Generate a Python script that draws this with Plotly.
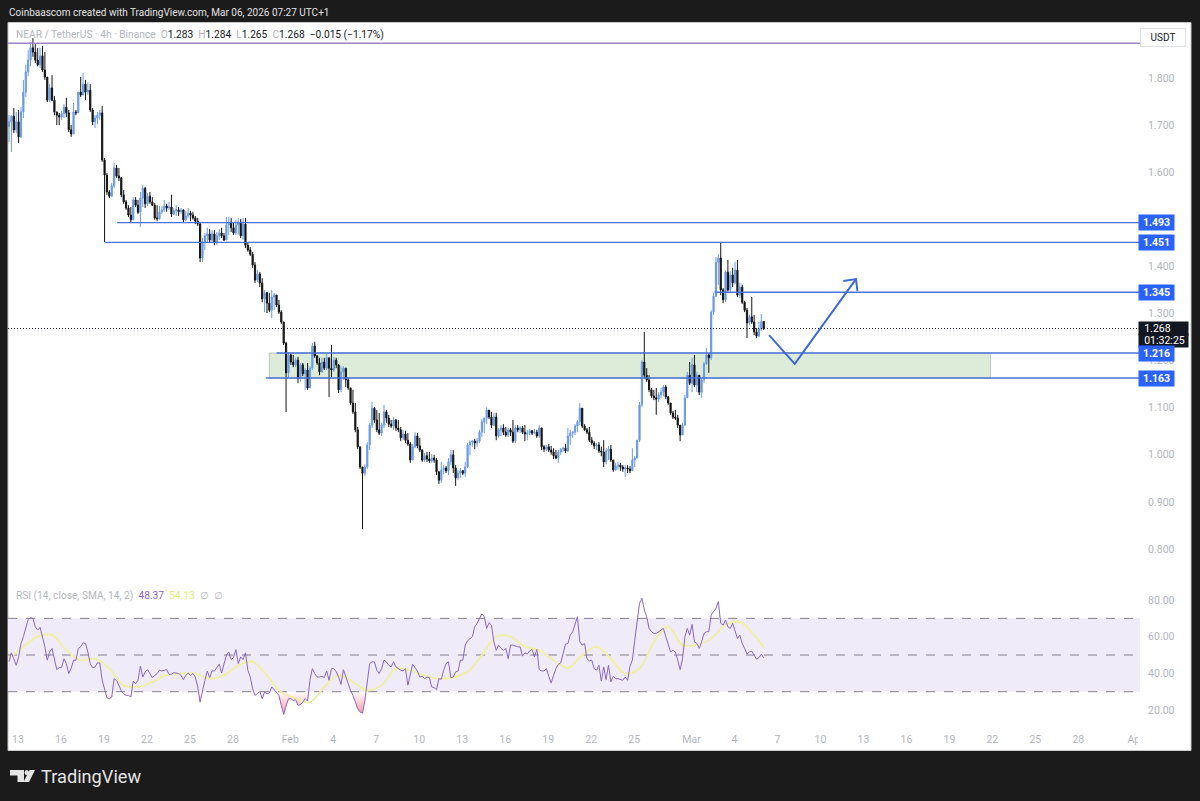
import pandas as pd
import plotly.graph_objects as go

# 4h candles, one row per day
closes = [
    1.707, 1.719, 1.690, 1.707, 1.675, 1.728,
    1.770, 1.813, 1.838, 1.864, 1.855, 1.838,
    1.828, 1.847, 1.817, 1.802, 1.753, 1.779,
    1.753, 1.728, 1.721, 1.717, 1.724, 1.738,
    1.726, 1.690, 1.681, 1.728, 1.726, 1.770,
    1.764, 1.787, 1.770, 1.774, 1.732, 1.707,
    1.715, 1.721, 1.726, 1.626, 1.594, 1.558,
    1.549, 1.571, 1.609, 1.592, 1.588, 1.552,
    1.537, 1.524, 1.509, 1.499, 1.541, 1.530,
    1.515, 1.545, 1.566, 1.533, 1.549, 1.537,
    1.530, 1.503, 1.501, 1.516, 1.520, 1.528,
    1.524, 1.526, 1.511, 1.518, 1.520, 1.516,
    1.520, 1.499, 1.507, 1.513, 1.509, 1.503,
    1.496, 1.490, 1.418, 1.450, 1.465, 1.469,
    1.456, 1.469, 1.450, 1.465, 1.471, 1.465,
    1.456, 1.488, 1.494, 1.482, 1.471, 1.488,
    1.494, 1.465, 1.490, 1.445, 1.435, 1.426,
    1.403, 1.371, 1.384, 1.365, 1.331, 1.344,
    1.322, 1.307, 1.335, 1.339, 1.318, 1.303,
    1.282, 1.237, 1.174, 1.212, 1.197, 1.191,
    1.201, 1.163, 1.191, 1.172, 1.180, 1.142,
    1.184, 1.231, 1.210, 1.195, 1.176, 1.197,
    1.184, 1.206, 1.184, 1.180, 1.201, 1.191,
    1.138, 1.176, 1.184, 1.159, 1.142, 1.110,
    1.091, 1.053, 1.017, 0.974, 0.961, 0.974,
    1.021, 1.063, 1.099, 1.074, 1.053, 1.046,
    1.063, 1.091, 1.078, 1.065, 1.061, 1.074,
    1.057, 1.053, 1.036, 1.044, 1.031, 1.023,
    0.989, 1.017, 1.040, 1.019, 1.010, 0.989,
    0.998, 0.991, 0.987, 0.993, 0.989, 0.964,
    0.946, 0.968, 0.972, 0.966, 0.985, 1.000,
    0.972, 0.951, 0.961, 0.966, 0.961, 0.974,
    1.021, 1.027, 1.029, 1.025, 1.029, 1.048,
    1.070, 1.078, 1.095, 1.080, 1.063, 1.080,
    1.040, 1.053, 1.057, 1.048, 1.042, 1.053,
    1.048, 1.029, 1.057, 1.053, 1.057, 1.048,
    1.044, 1.046, 1.051, 1.046, 1.048, 1.040,
    1.057, 1.017, 1.012, 1.017, 1.010, 1.006,
    0.998, 0.993, 1.006, 1.012, 1.014, 1.008,
    1.040, 1.046, 1.048, 1.061, 1.070, 1.099,
    1.061, 1.053, 1.048, 1.031, 1.025, 1.019,
    1.021, 1.008, 1.006, 0.985, 1.008, 1.012,
    0.989, 0.968, 0.976, 0.978, 0.974, 0.970,
    0.972, 0.970, 0.966, 0.989, 0.993, 1.031,
    1.106, 1.197, 1.169, 1.159, 1.138, 1.125,
    1.121, 1.118, 1.127, 1.133, 1.144, 1.123,
    1.110, 1.089, 1.080, 1.078, 1.063, 1.042,
    1.063, 1.121, 1.169, 1.152, 1.191, 1.148,
    1.169, 1.133, 1.159, 1.193, 1.212, 1.206,
    1.303, 1.337, 1.409, 1.418, 1.350, 1.329,
    1.388, 1.350, 1.382, 1.365, 1.392, 1.339,
    1.356, 1.324, 1.307, 1.280, 1.293, 1.282,
    1.261, 1.252, 1.267, 1.283, 1.268,
]
highs = [
    1.721, 1.721, 1.736, 1.728, 1.732, 1.738,
    1.796, 1.828, 1.859, 1.876, 1.885, 1.872,
    1.864, 1.864, 1.868, 1.855, 1.800, 1.787,
    1.806, 1.762, 1.728, 1.726, 1.730, 1.745,
    1.758, 1.732, 1.700, 1.747, 1.732, 1.768,
    1.802, 1.811, 1.796, 1.791, 1.787, 1.736,
    1.721, 1.728, 1.732, 1.741, 1.630, 1.598,
    1.562, 1.577, 1.620, 1.615, 1.609, 1.590,
    1.562, 1.541, 1.530, 1.526, 1.547, 1.547,
    1.541, 1.558, 1.573, 1.569, 1.556, 1.558,
    1.547, 1.535, 1.530, 1.528, 1.528, 1.541,
    1.533, 1.537, 1.552, 1.524, 1.530, 1.526,
    1.524, 1.518, 1.518, 1.524, 1.518, 1.516,
    1.507, 1.503, 1.494, 1.460, 1.471, 1.482,
    1.479, 1.477, 1.477, 1.473, 1.479, 1.482,
    1.471, 1.505, 1.505, 1.503, 1.494, 1.499,
    1.503, 1.501, 1.503, 1.503, 1.450, 1.441,
    1.431, 1.409, 1.392, 1.388, 1.375, 1.350,
    1.346, 1.344, 1.350, 1.344, 1.337, 1.329,
    1.307, 1.282, 1.240, 1.218, 1.216, 1.212,
    1.206, 1.208, 1.195, 1.195, 1.184, 1.195,
    1.188, 1.237, 1.240, 1.212, 1.206, 1.206,
    1.206, 1.214, 1.206, 1.233, 1.208, 1.206,
    1.191, 1.188, 1.188, 1.184, 1.163, 1.142,
    1.138, 1.110, 1.059, 1.017, 0.974, 0.980,
    1.027, 1.068, 1.112, 1.101, 1.095, 1.089,
    1.068, 1.106, 1.095, 1.085, 1.074, 1.080,
    1.076, 1.074, 1.059, 1.053, 1.051, 1.046,
    1.027, 1.023, 1.048, 1.046, 1.036, 1.012,
    1.004, 1.006, 1.006, 1.002, 1.000, 0.993,
    0.963, 0.985, 0.978, 0.976, 0.993, 1.010,
    1.010, 0.978, 0.968, 0.972, 0.968, 0.985,
    1.025, 1.031, 1.031, 1.034, 1.036, 1.053,
    1.076, 1.078, 1.101, 1.095, 1.091, 1.089,
    1.089, 1.057, 1.063, 1.065, 1.059, 1.057,
    1.057, 1.074, 1.063, 1.063, 1.061, 1.061,
    1.063, 1.053, 1.055, 1.053, 1.055, 1.053,
    1.063, 1.057, 1.021, 1.021, 1.023, 1.019,
    1.014, 1.010, 1.010, 1.014, 1.017, 1.023,
    1.057, 1.053, 1.051, 1.065, 1.074, 1.110,
    1.095, 1.065, 1.057, 1.059, 1.038, 1.029,
    1.025, 1.027, 1.017, 1.031, 1.014, 1.019,
    1.021, 0.989, 0.983, 0.985, 0.983, 0.978,
    0.978, 0.978, 0.976, 1.014, 0.997, 1.031,
    1.112, 1.201, 1.261, 1.184, 1.169, 1.142,
    1.138, 1.142, 1.133, 1.142, 1.148, 1.148,
    1.125, 1.110, 1.093, 1.095, 1.085, 1.063,
    1.068, 1.127, 1.176, 1.197, 1.206, 1.212,
    1.176, 1.169, 1.163, 1.197, 1.227, 1.216,
    1.307, 1.344, 1.420, 1.426, 1.451, 1.354,
    1.392, 1.414, 1.390, 1.397, 1.409, 1.414,
    1.365, 1.361, 1.327, 1.312, 1.297, 1.335,
    1.297, 1.269, 1.282, 1.299, 1.284,
]
lows = [
    1.664, 1.643, 1.683, 1.683, 1.662, 1.673,
    1.715, 1.760, 1.804, 1.825, 1.845, 1.832,
    1.825, 1.821, 1.813, 1.796, 1.749, 1.749,
    1.751, 1.721, 1.700, 1.700, 1.711, 1.715,
    1.717, 1.685, 1.675, 1.685, 1.721, 1.726,
    1.760, 1.764, 1.753, 1.764, 1.728, 1.700,
    1.694, 1.702, 1.711, 1.622, 1.452, 1.552,
    1.545, 1.547, 1.566, 1.588, 1.581, 1.547,
    1.533, 1.520, 1.505, 1.492, 1.505, 1.526,
    1.511, 1.484, 1.526, 1.524, 1.528, 1.533,
    1.528, 1.499, 1.496, 1.499, 1.511, 1.516,
    1.516, 1.520, 1.505, 1.509, 1.507, 1.507,
    1.511, 1.494, 1.496, 1.503, 1.496, 1.499,
    1.490, 1.486, 1.409, 1.409, 1.435, 1.450,
    1.450, 1.450, 1.445, 1.445, 1.456, 1.460,
    1.454, 1.456, 1.467, 1.473, 1.467, 1.467,
    1.467, 1.460, 1.456, 1.439, 1.431, 1.422,
    1.397, 1.365, 1.367, 1.356, 1.324, 1.303,
    1.301, 1.303, 1.290, 1.307, 1.314, 1.299,
    1.278, 1.233, 1.091, 1.163, 1.191, 1.186,
    1.186, 1.152, 1.155, 1.167, 1.138, 1.138,
    1.148, 1.180, 1.206, 1.191, 1.169, 1.174,
    1.180, 1.180, 1.123, 1.165, 1.176, 1.184,
    1.131, 1.133, 1.159, 1.144, 1.138, 1.106,
    1.087, 1.048, 1.012, 0.970, 0.842, 0.955,
    0.970, 1.010, 1.057, 1.068, 1.048, 1.042,
    1.040, 1.057, 1.068, 1.059, 1.057, 1.053,
    1.051, 1.048, 1.029, 1.031, 1.025, 1.019,
    0.983, 0.989, 1.014, 1.014, 1.006, 0.985,
    0.985, 0.985, 0.983, 0.983, 0.983, 0.957,
    0.938, 0.940, 0.959, 0.961, 0.957, 0.978,
    0.961, 0.934, 0.946, 0.951, 0.957, 0.953,
    0.972, 0.999, 1.017, 1.012, 1.017, 1.025,
    1.038, 1.046, 1.065, 1.076, 1.057, 1.061,
    1.031, 1.036, 1.040, 1.042, 1.038, 1.038,
    1.040, 1.025, 1.025, 1.048, 1.046, 1.044,
    1.029, 1.031, 1.042, 1.042, 1.044, 1.036,
    1.036, 1.010, 1.006, 1.008, 1.006, 1.000,
    0.991, 0.991, 0.983, 1.000, 1.006, 1.004,
    1.006, 1.021, 1.036, 1.042, 1.048, 1.063,
    1.057, 1.051, 1.044, 1.027, 1.021, 1.012,
    1.010, 1.004, 0.997, 0.974, 0.980, 0.989,
    0.985, 0.964, 0.966, 0.968, 0.966, 0.964,
    0.953, 0.961, 0.961, 0.968, 0.974, 0.993,
    1.027, 1.101, 1.163, 1.155, 1.133, 1.121,
    1.116, 1.085, 1.112, 1.121, 1.125, 1.118,
    1.106, 1.085, 1.076, 1.074, 1.057, 1.029,
    1.042, 1.063, 1.121, 1.148, 1.133, 1.144,
    1.133, 1.127, 1.121, 1.152, 1.191, 1.174,
    1.201, 1.297, 1.335, 1.361, 1.339, 1.322,
    1.324, 1.346, 1.346, 1.356, 1.363, 1.335,
    1.333, 1.320, 1.303, 1.248, 1.276, 1.278,
    1.254, 1.248, 1.250, 1.263, 1.265,
]
first_open = 1.697
first_candle = "2026-01-12 09:00"

rsi_vals = [
    46.3, 51.2, 48.0, 44.4, 49.0, 56.3, 60.0, 65.4, 69.4, 70.4, 70.0, 65.4,
    63.6, 65.1, 60.0, 54.5, 47.2, 51.7, 53.6, 47.2, 42.0, 43.1, 43.1, 48.0,
    45.3, 39.9, 42.6, 47.2, 47.2, 53.6, 54.5, 56.7, 56.3, 51.7, 45.3, 43.1,
    43.5, 45.7, 45.7, 36.2, 30.7, 26.7, 26.2, 27.1, 37.1, 36.2, 33.5, 30.4,
    28.9, 28.0, 28.0, 27.1, 35.8, 34.4, 36.2, 43.9, 38.0, 40.8, 42.0, 39.9,
    37.7, 38.9, 39.9, 41.7, 41.3, 41.7, 42.0, 39.5, 39.5, 40.4, 40.2, 39.9,
    38.9, 36.6, 38.9, 40.2, 38.9, 39.9, 38.0, 32.6, 24.3, 30.7, 36.2, 41.3,
    37.7, 41.3, 41.3, 43.1, 45.0, 40.2, 45.3, 49.9, 51.7, 47.5, 48.6, 53.0,
    45.3, 49.0, 47.5, 51.2, 41.7, 38.0, 31.6, 28.0, 28.9, 30.2, 26.2, 29.8,
    28.9, 29.3, 32.6, 31.1, 29.8, 28.0, 22.5, 17.6, 22.0, 26.2, 26.2, 25.2,
    25.6, 22.5, 23.0, 24.3, 26.2, 24.9, 36.2, 42.6, 39.9, 38.0, 38.0, 38.4,
    37.7, 41.3, 36.2, 42.6, 42.6, 40.8, 38.0, 34.0, 42.0, 38.0, 33.5, 30.7,
    28.0, 24.3, 20.7, 18.9, 18.3, 25.2, 36.2, 45.3, 46.3, 46.3, 41.7, 39.9,
    42.6, 47.2, 46.3, 44.4, 43.5, 46.3, 43.5, 42.6,
    41.7, 41.3, 42.6, 33.5, 39.9, 45.0, 43.1, 41.3, 38.0, 38.4, 37.1, 38.0,
    37.7, 32.6, 32.2, 31.1, 37.1, 36.8, 41.7, 45.3, 46.3, 37.7, 38.0, 40.8,
    41.3, 47.2, 47.2, 55.4, 57.8, 59.0, 60.0, 65.4, 67.3, 70.0, 72.4, 70.9,
    64.5, 67.6, 66.3, 57.2, 52.6, 55.4, 53.6, 52.6, 53.6, 48.0, 55.4, 55.4,
    54.8, 54.5, 54.5, 49.4, 51.2, 50.5, 52.3, 53.0, 49.0, 53.0, 42.0, 41.3,
    41.3, 42.6, 38.4, 34.7, 38.9, 42.6, 45.0, 45.7, 50.8, 55.9, 56.3, 60.9,
    62.7, 66.3, 70.9, 57.2, 55.4, 56.3, 48.0, 46.8, 47.2, 42.6, 41.7, 44.4,
    35.8, 43.5, 36.6, 44.4, 35.3, 38.4, 37.1, 37.1, 36.6, 36.2, 38.0, 36.2,
    43.9, 47.2, 58.1, 70.0, 78.2, 81.0, 74.6, 70.9, 64.5, 62.7, 61.8, 61.8,
    62.7, 63.6, 64.5, 60.0, 56.3, 51.7, 52.6, 51.7, 47.2, 42.0, 48.0, 60.0,
    64.5, 60.9, 66.7, 57.2, 56.3, 53.6, 57.2, 61.8, 62.7, 62.7, 71.8, 73.6,
    75.5, 79.1, 67.3, 66.3, 69.1, 65.4, 64.5, 67.3, 62.7, 59.0, 60.9, 56.3,
    53.6, 50.5, 51.7, 52.1, 49.9, 47.7, 48.6, 50.5, 48.4,
]
# RSI moving average, read once a day plus the last candle
rsi_ma_vals = [
    48.0, 54.5, 60.0, 60.9, 52.6, 47.2, 48.0, 42.6, 33.5, 32.6, 35.3, 38.9,
    39.9, 39.9, 37.1, 38.9, 44.4, 46.3, 38.9, 29.8, 26.2, 24.3, 32.6, 38.9,
    35.3, 30.7, 33.5, 42.6, 41.7, 38.9, 37.1, 37.7, 40.8, 49.9, 60.0, 60.0,
    54.5, 52.6, 47.2, 43.0, 49.9, 54.5, 48.0, 39.9, 42.6, 57.2, 65.4, 55.4,
    55.4, 59.0, 66.3, 68.2, 60.9, 54.13,
]

level_prices = [1.493, 1.451, 1.345, 1.216, 1.163]
level_starts = ["2026-01-19 22:00", "2026-01-19 01:00", "2026-03-02 15:00",
                "2026-01-31 01:00", "2026-01-30 07:00"]
top_level = 1.874
last_price = 1.268
zone_low, zone_high = 1.163, 1.216
zone_start, zone_end = "2026-01-30 13:00", "2026-03-21 21:00"

plan_x = ["2026-03-06 10:00", "2026-03-08 05:00", "2026-03-12 11:30", None,
          "2026-03-11 14:20", "2026-03-12 11:30", "2026-03-12 14:00"]
plan_y = [1.254, 1.193, 1.373, None, 1.369, 1.373, 1.348]

price_ticks = [0.8, 0.9, 1.0, 1.1, 1.2, 1.3, 1.4, 1.6, 1.7, 1.8]
rsi_ticks = [20, 40, 60, 80]
rsi_levels = [70, 50, 30]
time_ticks = ["2026-01-13", "2026-01-16", "2026-01-19", "2026-01-22", "2026-01-25",
              "2026-01-28", "2026-02-01", "2026-02-04", "2026-02-07", "2026-02-10",
              "2026-02-13", "2026-02-16", "2026-02-19", "2026-02-22", "2026-02-25",
              "2026-03-01", "2026-03-04", "2026-03-07", "2026-03-10", "2026-03-13",
              "2026-03-16", "2026-03-19", "2026-03-22", "2026-03-25", "2026-03-28",
              "2026-04-01"]
time_labels = ["13", "16", "19", "22", "25", "28", "Feb", "4", "7", "10", "13", "16",
               "19", "22", "25", "Mar", "4", "7", "10", "13", "16", "19", "22", "25",
               "28", "Apr"]
time_range = ["2026-01-12 07:15", "2026-04-01 07:15"]

BLUE = "#2962ff"
LINE_BLUE = "#4a72d8"
UP = "#6a9ae6"
DOWN = "#141414"
GREY = "#b2b5be"
DARK = "#131722"
FONT = "Roboto"


def fx(px):
    return px / 1200


def fy(px):
    return 1 - px / 801


def poly(points):
    return "M" + " L".join(f"{fx(x)},{fy(y)}" for x, y in points) + " Z"


dates = pd.date_range(first_candle, periods=len(closes), freq="4h")
opens = [first_open] + closes[:-1]
ma_dates = list(dates[::6]) + [dates[-1]]

fig = go.Figure()

fig.add_trace(go.Candlestick(
    x=dates, open=opens, high=highs, low=lows, close=closes,
    increasing=dict(line=dict(color=UP, width=1), fillcolor=UP),
    decreasing=dict(line=dict(color=DOWN, width=1), fillcolor=DOWN),
    whiskerwidth=0,
))

for price, start in zip(level_prices, level_starts):
    fig.add_trace(go.Scatter(x=[start, time_range[1]], y=[price, price], mode="lines",
                             line=dict(color=LINE_BLUE, width=1.4)))

fig.add_trace(go.Scatter(x=time_range, y=[top_level, top_level], mode="lines",
                         line=dict(color="#9b86c8", width=1.5)))
fig.add_trace(go.Scatter(x=time_range, y=[last_price, last_price], mode="lines",
                         line=dict(color=DARK, width=1, dash="1px,2px")))
fig.add_trace(go.Scatter(x=plan_x, y=plan_y, mode="lines",
                         line=dict(color="#3f68dc", width=2)))

# RSI pane
fig.add_trace(go.Scatter(x=dates, y=[30] * len(rsi_vals), mode="lines", yaxis="y2",
                         line=dict(width=0, color="rgba(0,0,0,0)")))
fig.add_trace(go.Scatter(
    x=dates, y=[min(v, 30) for v in rsi_vals], mode="lines", yaxis="y2",
    line=dict(width=0, color="rgba(0,0,0,0)"), fill="tonexty",
    fillgradient=dict(type="vertical", start=17, stop=30,
                      colorscale=[[0, "rgba(242,54,69,0.55)"], [1, "rgba(242,54,69,0)"]]),
))
fig.add_trace(go.Scatter(x=ma_dates, y=rsi_ma_vals, mode="lines", yaxis="y2",
                         line=dict(color="#eff0a6", width=2, shape="spline", smoothing=1)))
fig.add_trace(go.Scatter(x=dates, y=rsi_vals, mode="lines", yaxis="y2",
                         line=dict(color="#8a66c4", width=1)))

shapes = [
    dict(type="rect", xref="paper", yref="paper", x0=fx(8), x1=fx(1191), y0=fy(750.5), y1=fy(22.5),
         fillcolor="white", line=dict(color="#c8c8c8", width=1), layer="below"),
    # zone sits under the candles, so it goes in as a shape
    dict(type="rect", xref="x", yref="y", x0=zone_start, x1=zone_end, y0=zone_low, y1=zone_high,
         fillcolor="#dcecd9", line=dict(color="#b9c6c6", width=1), layer="below"),
    dict(type="rect", xref="x domain", yref="y2", x0=0, x1=1, y0=rsi_levels[2], y1=rsi_levels[0],
         fillcolor="#f0ebf9", line=dict(width=0), layer="below"),
    # the time scale stops at the price column, so the Apr label gets cut there
    dict(type="rect", xref="paper", yref="paper", x0=fx(1138), x1=fx(1190), y0=fy(749), y1=fy(730),
         fillcolor="white", line=dict(width=0), layer="above"),
    # logo
    dict(type="path", xref="paper", yref="paper", line=dict(width=0), fillcolor="#e4e4e4",
         path=poly([(10, 770), (24, 770), (24, 782), (17.5, 782), (17.5, 775.5), (10, 775.5)])),
    dict(type="path", xref="paper", yref="paper", line=dict(width=0), fillcolor="#e4e4e4",
         path=poly([(29.5, 770), (35, 770), (29, 782), (23.5, 782)])),
    dict(type="circle", xref="paper", yref="paper", line=dict(width=0), fillcolor="#e4e4e4",
         x0=fx(24.5), x1=fx(29), y0=fy(775), y1=fy(770)),
]
for level in rsi_levels:
    shapes.append(dict(type="line", xref="x domain", yref="y2", x0=0, x1=1, y0=level, y1=level,
                       line=dict(color="#857f92", width=1, dash="dash"), layer="below"))

annotations = []


def label(x, y, text, yref="paper", **kw):
    base = dict(x=fx(x), y=y if yref != "paper" else fy(y), xref="paper", yref=yref, text=text,
                showarrow=False, xanchor="left", yanchor="middle", align="left")
    base.update(kw)
    annotations.append(base)


def span(color, text):
    return f'<span style="color:{color}">{text}</span>'


GAP = "\u00a0\u00a0"
label(7, 12, "Coinbaascom created with TradingView.com, Mar 06, 2026 07:27 UTC+1",
      font=dict(family=FONT, size=10, color="#e2e2e2"))
label(14, 35,
      span(GREY, "NEAR / TetherUS · 4h · Binance" + GAP + "O") + span(DARK, "1.283") +
      span(GREY, GAP + "H") + span(DARK, "1.284") + span(GREY, GAP + "L") + span(DARK, "1.265") +
      span(GREY, GAP + "C") + span(DARK, "1.268") + span(DARK, GAP + "−0.015 (−1.17%)"),
      font=dict(family=FONT, size=10.2))
label(14, 596,
      span(GREY, "RSI (14, close, SMA, 14, 2)" + GAP) + span("#8a5fc8", "48.37") + GAP +
      span("#e4ea7e", "54.13") + GAP + span(GREY, "∅" + GAP + "∅"),
      font=dict(family=FONT, size=10.2))
label(39, 776, "TradingView", font=dict(family=FONT, size=18.2, color="#e4e4e4"))
label(1140, 37, "USDT", font=dict(family=FONT, size=10, color=DARK), bgcolor="white",
      bordercolor="#dfe1e8", borderwidth=1, borderpad=3, width=38, align="center")

# last price tag, one box per line so the timer stays clear of the 1.216 flag
label(1138, last_price, GAP + f"{last_price:.3f}", yref="y", font=dict(family=FONT, size=10.5, color="white"),
      bgcolor=DARK, borderpad=0, width=49)
label(1138, last_price, GAP + "01:32:25", yref="y", yshift=-12, font=dict(family=FONT, size=10.5, color="white"),
      bgcolor=DARK, borderpad=0, width=49)
for price in level_prices:
    label(1138, price, f"<b>{price:.3f}</b>", yref="y",
          font=dict(family=FONT, size=10.5, color="white"), bgcolor=BLUE, borderpad=1, width=33,
          align="center")

fig.update_layout(
    width=1200, height=801, autosize=False,
    margin=dict(l=0, r=0, t=0, b=0),
    paper_bgcolor="#1b1b1b",
    plot_bgcolor="rgba(0,0,0,0)",
    showlegend=False,
    font=dict(family=FONT, size=10.5, color=GREY),
    shapes=shapes,
    annotations=annotations,
    xaxis=dict(
        domain=[fx(8), fx(1140)], range=time_range, anchor="y2", type="date", automargin=False,
        tickvals=time_ticks, ticktext=time_labels, ticks="", showgrid=False, zeroline=False,
        showline=False, rangeslider=dict(visible=False), tickfont=dict(color=GREY, size=10.5),
        ticklabelstandoff=3,
    ),
    yaxis=dict(
        domain=[fy(570), fy(23)], range=[0.7554, 1.9168], side="right", anchor="x", automargin=False,
        tickvals=price_ticks, tickformat=".3f", showgrid=False, zeroline=False,
        ticks="outside", ticklen=5, tickcolor="rgba(0,0,0,0)", tickfont=dict(color=GREY, size=10.5),
    ),
    yaxis2=dict(
        domain=[fy(728), fy(585)], range=[10.2, 88.2], side="right", anchor="x", automargin=False,
        tickvals=rsi_ticks, tickformat=".2f", showgrid=False, zeroline=False,
        ticks="outside", ticklen=5, tickcolor="rgba(0,0,0,0)", tickfont=dict(color=GREY, size=10.5),
    ),
)

fig.write_html("out.html", config=dict(displayModeBar=False),
               post_script="document.body.style.margin='0';document.body.style.background='#1b1b1b';document.body.style.overflow='hidden';")
